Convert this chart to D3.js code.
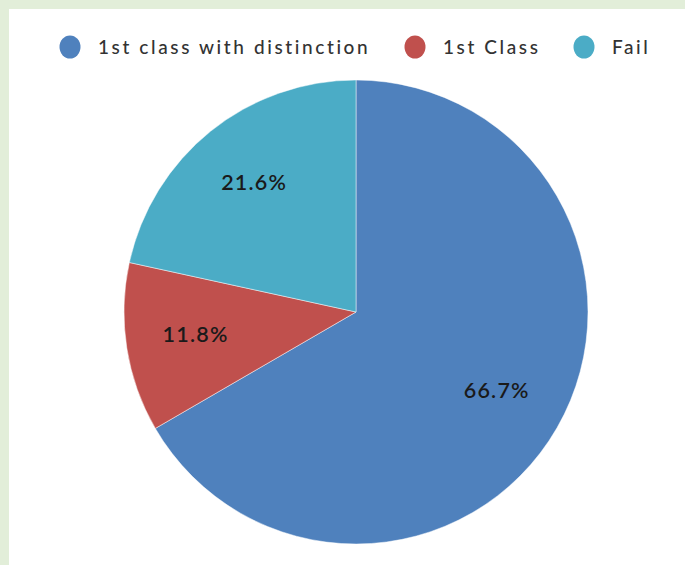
<!DOCTYPE html>
<html>
<head>
<meta charset="utf-8">
<script src="https://cdn.jsdelivr.net/npm/d3@7"></script>
<style>
  html, body { margin: 0; padding: 0; background: #e2eed9; }
  svg { display: block; }
</style>
</head>
<body>
<svg id="chart" width="685" height="565"></svg>
<script>
// Result categories and their shares (percent)
const categories = ["1st class with distinction", "1st Class", "Fail"];
const shares = [66.7, 11.8, 21.6];
const colors = ["#4f81bd", "#c0504d", "#4bacc6"];

const width = 685, height = 565;
const svg = d3.select("#chart");

// white panel inside the green frame
svg.append("rect")
  .attr("x", 9).attr("y", 9)
  .attr("width", width - 9).attr("height", height - 9)
  .attr("fill", "#ffffff");

const data = categories.map((c, i) => ({ name: c, value: shares[i] }));
const color = d3.scaleOrdinal().domain(categories).range(colors);

const cx = 356, cy = 312, radius = 232;

const pie = d3.pie().sort(null).value(d => d.value);
const arc = d3.arc().innerRadius(0).outerRadius(radius);
const labelArc = d3.arc().innerRadius(radius * 0.7).outerRadius(radius * 0.7);

const g = svg.append("g").attr("transform", `translate(${cx},${cy})`);
const arcs = pie(data);

g.selectAll("path.slice")
  .data(arcs)
  .join("path")
  .attr("class", "slice")
  .attr("d", arc)
  .attr("fill", d => color(d.data.name))
  .attr("stroke", "rgba(255,255,255,0.6)")
  .attr("stroke-width", 0.8);

g.selectAll("text.pct")
  .data(arcs)
  .join("text")
  .attr("class", "pct")
  .attr("transform", d => `translate(${labelArc.centroid(d)})`)
  .attr("text-anchor", "middle")
  .attr("dy", "0.22em")
  .attr("font-family", "Lato, 'Open Sans', sans-serif")
  .attr("font-size", 21.5)
  .attr("font-weight", 600)
  .attr("letter-spacing", 1.2)
  .attr("fill", "#1a1a1a")
  .text(d => d3.format(".1f")(d.data.value) + "%");

// legend across the top
const legendX = [70, 415, 584];
const legend = svg.append("g");
const items = legend.selectAll("g.item")
  .data(categories)
  .join("g")
  .attr("class", "item")
  .attr("transform", (d, i) => `translate(${legendX[i]},47)`);

items.append("ellipse")
  .attr("rx", 10.5).attr("ry", 11.5)
  .attr("fill", d => color(d));

items.append("text")
  .attr("x", 28)
  .attr("dy", "0.35em")
  .attr("font-family", "Lato, 'Open Sans', sans-serif")
  .attr("font-size", 19)
  .attr("font-weight", 500)
  .attr("letter-spacing", 2.6)
  .attr("fill", "#333333")
  .text(d => d);
</script>
</body>
</html>
